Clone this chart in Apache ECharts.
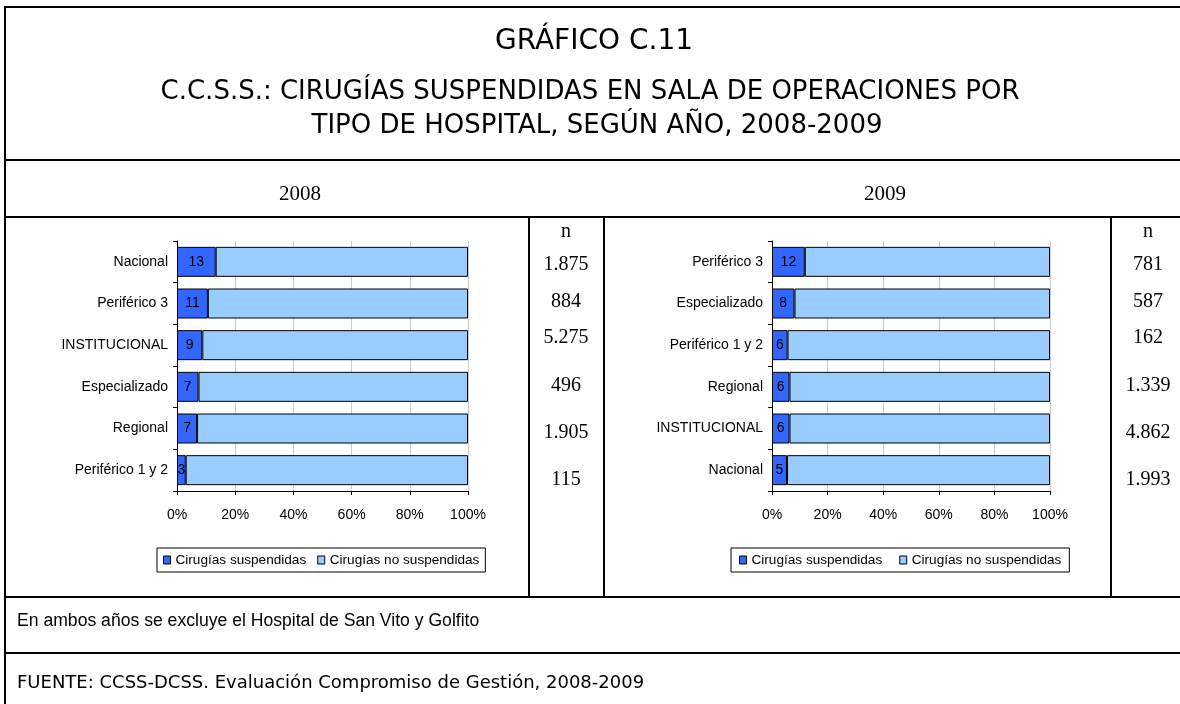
<!DOCTYPE html>
<html>
<head>
<meta charset="utf-8">
<script src="https://cdn.jsdelivr.net/npm/echarts@6/dist/echarts.min.js"></script>
<style>
html,body{margin:0;padding:0;background:#fff;}
#c{width:1180px;height:704px;}
</style>
</head>
<body>
<div id="c"></div>
<script>
// ---- data ----
const cats2008 = ['Nacional', 'Periférico 3', 'INSTITUCIONAL', 'Especializado', 'Regional', 'Periférico 1 y 2'];
const susp2008 = [13.3, 10.6, 8.7, 7.4, 6.9, 3.0];
const noSusp2008 = [86.7, 89.4, 91.3, 92.6, 93.1, 97.0];
const n2008 = ['1.875', '884', '5.275', '496', '1.905', '115'];

const cats2009 = ['Periférico 3', 'Especializado', 'Periférico 1 y 2', 'Regional', 'INSTITUCIONAL', 'Nacional'];
const susp2009 = [11.8, 8.1, 5.6, 6.3, 6.3, 5.4];
const noSusp2009 = [88.2, 91.9, 94.4, 93.7, 93.7, 94.6];
const n2009 = ['781', '587', '162', '1.339', '4.862', '1.993'];

const seriesNames = ['Cirugías suspendidas', 'Cirugías no suspendidas'];
const xTicks = [0, 20, 40, 60, 80, 100];
const years = ['2008', '2009'];
const titleMain = 'GRÁFICO C.11';
const titleSub1 = 'C.C.S.S.: CIRUGÍAS SUSPENDIDAS EN SALA DE OPERACIONES POR';
const titleSub2 = 'TIPO DE HOSPITAL, SEGÚN AÑO, 2008-2009';
const noteText = 'En ambos años se excluye el Hospital de San Vito y Golfito';
const sourceText = 'FUENTE: CCSS-DCSS. Evaluación Compromiso de Gestión, 2008-2009';

// ---- layout ----
const nRowY = [265, 302, 338, 386, 433, 480];
const AX_FONT = '"Liberation Sans", Arial, sans-serif';
const colors = ['#3366FF', '#99CCFF'];

const chart = echarts.init(document.getElementById('c'));

function xAxis(idx) {
  return {
    type: 'value', gridIndex: idx, min: xTicks[0], max: xTicks[xTicks.length - 1], interval: 20,
    axisLine: { show: true, lineStyle: { color: '#000', width: 1 } },
    axisTick: { show: true, length: 4, lineStyle: { color: '#000' } },
    axisLabel: { formatter: '{value}%', color: '#000', fontSize: 14, fontFamily: AX_FONT, margin: 17 },
    splitLine: { show: true, lineStyle: { color: '#cccccc', width: 1 } }
  };
}
function yAxis(idx, cats) {
  return {
    type: 'category', gridIndex: idx, data: cats, inverse: true,
    axisLine: { show: true, lineStyle: { color: '#000', width: 1 } },
    axisTick: { show: true, length: 4, lineStyle: { color: '#000' } },
    axisLabel: { color: '#000', fontSize: 14, fontFamily: AX_FONT, margin: 9 },
    splitLine: { show: false }
  };
}
function barSeries(name, data, idx, stack, colorIdx, withLabel) {
  return {
    type: 'bar', name: name, data: data, xAxisIndex: idx, yAxisIndex: idx, stack: stack,
    barWidth: 30,
    itemStyle: { color: colors[colorIdx], borderColor: '#000', borderWidth: 1 },
    label: withLabel ? {
      show: true, position: 'inside', color: '#000', fontSize: 14, fontFamily: AX_FONT,
      formatter: p => Math.round(p.value)
    } : { show: false },
    emphasis: { disabled: true },
    animation: false
  };
}

function hLine(y, x1, x2) {
  return { type: 'line', shape: { x1: x1, y1: y, x2: x2, y2: y }, style: { stroke: '#000', lineWidth: 2 }, z: 100 };
}
function vLine(x, y1, y2) {
  return { type: 'line', shape: { x1: x, y1: y1, x2: x, y2: y2 }, style: { stroke: '#000', lineWidth: 2 }, z: 100 };
}
function txt(t, x, y, font, align) {
  return { type: 'text', z: 100, style: { text: t, x: x, y: y, font: font, fill: '#000', textAlign: align || 'center', verticalAlign: 'middle' } };
}

const SERIF = '"Liberation Serif", "Times New Roman", serif';
const graphics = [
  hLine(7, 4, 1190), vLine(5, 6, 710),
  hLine(160, 4, 1190), hLine(217, 4, 1190), hLine(597, 4, 1190), hLine(653, 4, 1190),
  vLine(529, 217, 597), vLine(604, 217, 597), vLine(1111, 217, 597),
  txt(titleMain, 594, 42, '28px "DejaVu Sans", Verdana, sans-serif'),
  txt(titleSub1, 590, 92, '26px "DejaVu Sans", Verdana, sans-serif'),
  txt(titleSub2, 597, 126, '26px "DejaVu Sans", Verdana, sans-serif'),
  txt(years[0], 300, 194, '21px ' + SERIF),
  txt(years[1], 885, 194, '21px ' + SERIF),
  txt('n', 566, 232, '20px ' + SERIF),
  txt('n', 1148, 232, '20px ' + SERIF),
  txt(noteText, 17, 621, '17.6px "Liberation Sans", Arial, sans-serif', 'left'),
  txt(sourceText, 17, 683, '18px "DejaVu Sans", Verdana, sans-serif', 'left')
];
n2008.forEach((v, i) => graphics.push(txt(v, 566, nRowY[i], '20px ' + SERIF)));
n2009.forEach((v, i) => graphics.push(txt(v, 1148, nRowY[i], '20px ' + SERIF)));

const legendBase = {
  data: seriesNames, orient: 'horizontal', top: 548,
  itemWidth: 7, itemHeight: 8, icon: 'rect',
  itemStyle: { borderColor: '#000', borderWidth: 1 },
  textStyle: { color: '#000', fontSize: 13.6, fontFamily: AX_FONT },
  borderColor: '#000', borderWidth: 1, backgroundColor: '#fff',
  selectedMode: false
};

chart.setOption({
  animation: false,
  backgroundColor: '#fff',
  grid: [
    { left: 177, top: 241, width: 291, height: 250, containLabel: false },
    { left: 772, top: 241, width: 278, height: 250, containLabel: false }
  ],
  xAxis: [xAxis(0), xAxis(1)],
  yAxis: [yAxis(0, cats2008), yAxis(1, cats2009)],
  legend: [
    Object.assign({}, legendBase, { left: 157, padding: [5, 6, 5, 6], itemGap: 11 }),
    Object.assign({}, legendBase, { left: 731, padding: [5, 8, 5, 8], itemGap: 17 })
  ],
  series: [
    barSeries(seriesNames[0], susp2008, 0, 'y2008', 0, true),
    barSeries(seriesNames[1], noSusp2008, 0, 'y2008', 1, false),
    barSeries(seriesNames[0], susp2009, 1, 'y2009', 0, true),
    barSeries(seriesNames[1], noSusp2009, 1, 'y2009', 1, false)
  ],
  graphic: graphics
});
</script>
</body>
</html>
